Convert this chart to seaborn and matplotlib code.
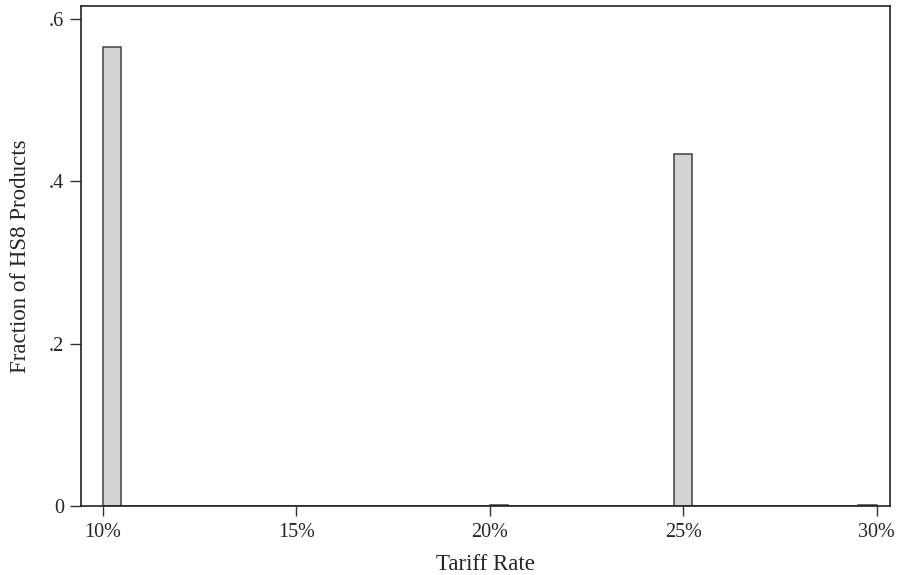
import matplotlib
matplotlib.use("Agg")
import matplotlib.pyplot as plt
import seaborn as sns
import numpy as np

# Data: tariff rates (%) and fraction of HS8 products at each rate
tariff_rates = [10, 20, 25, 30]
fractions = [0.565, 0.001, 0.434, 0.001]
x_ticks = [10, 15, 20, 25, 30]
x_tick_labels = ["10%", "15%", "20%", "25%", "30%"]
y_ticks = [0, 0.2, 0.4, 0.6]
y_tick_labels = ["0", ".2", ".4", ".6"]

sns.set_style("ticks")
plt.rcParams['font.family'] = ['Liberation Serif', 'DejaVu Serif']

fig = plt.figure(figsize=(8.97, 5.75), dpi=100)
ax = fig.add_axes([0.09, 0.12, 0.902, 0.870])

sns.histplot(x=tariff_rates, weights=fractions, bins=42, binrange=(10, 30),
             stat="count", color="#d3d3d3", edgecolor="#404040",
             linewidth=1.1, alpha=1, ax=ax)

ax.set_xlim(9.43, 30.34)
ax.set_ylim(0, 0.616)
ax.set_xticks(x_ticks)
ax.set_xticklabels(x_tick_labels, fontsize=14.5)
ax.set_yticks(y_ticks)
ax.set_yticklabels(y_tick_labels, fontsize=14.5)
ax.tick_params(axis="x", direction="out", length=7, width=1, color="#333333", pad=5)
ax.tick_params(axis="y", direction="out", length=8, width=1, color="#333333", pad=4)
for s in ax.spines.values():
    s.set_visible(True)
    s.set_linewidth(1.2)
    s.set_color("#222222")
ax.set_xlabel("Tariff Rate", fontsize=16.5)
ax.set_ylabel("Fraction of HS8 Products", fontsize=16.5)
ax.xaxis.set_label_coords(0.5, -0.095)
ax.yaxis.set_label_coords(-0.062, 0.5)
ax.grid(False)

fig.savefig("out.png", dpi=100)
